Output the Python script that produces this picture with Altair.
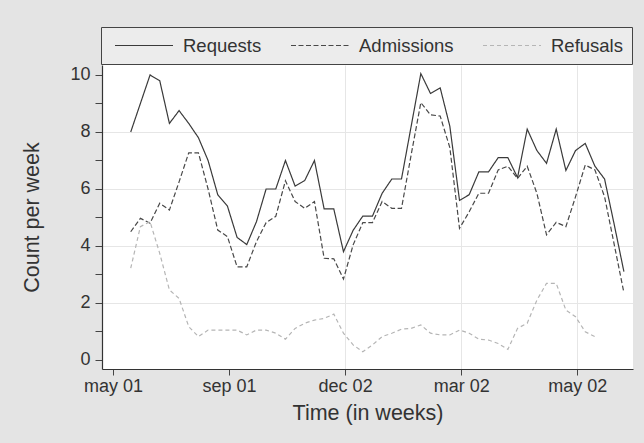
import altair as alt
import pandas as pd

# ---- data (one value per week) ----
requests = [8.0, 9.0, 10.0, 9.8, 8.3, 8.75, 8.3, 7.8, 7.0, 5.8,
            5.4, 4.3, 4.05, 4.85, 6.0, 6.0, 7.0, 6.1, 6.3, 7.0,
            5.3, 5.3, 3.8, 4.55, 5.05, 5.05, 5.85, 6.35, 6.35, 8.2,
            10.05, 9.35, 9.55, 8.2, 5.6, 5.8, 6.6, 6.6, 7.1, 7.1,
            6.4, 8.1, 7.35, 6.9, 8.1, 6.65, 7.35, 7.6, 6.8, 6.35,
            4.75, 3.1]
admissions = [4.5, 4.97, 4.8, 5.5, 5.26, 6.25, 7.27, 7.27, 6.0, 4.56,
              4.33, 3.27, 3.27, 4.15, 4.82, 5.04, 6.29, 5.56, 5.32, 5.56,
              3.57, 3.55, 2.84, 4.04, 4.82, 4.82, 5.56, 5.32, 5.32, 7.2,
              9.03, 8.6, 8.56, 7.45, 4.62, 5.2, 5.85, 5.85, 6.67, 6.8,
              6.37, 6.8, 5.85, 4.39, 4.83, 4.68, 5.73, 6.84, 6.67, 5.73,
              4.05, 2.36]
refusals = [3.22, 4.68, 4.85, 3.74, 2.46, 2.16, 1.17, 0.82, 1.05, 1.05,
            1.05, 1.05, 0.88, 1.05, 1.05, 0.94, 0.73, 1.11, 1.29, 1.4,
            1.46, 1.61, 0.94, 0.53, 0.29, 0.53, 0.82, 0.94, 1.08, 1.11,
            1.23, 0.94, 0.88, 0.88, 1.05, 0.94, 0.73, 0.7, 0.58, 0.37,
            1.11, 1.29, 2.1, 2.69, 2.69, 1.75, 1.52, 0.99, 0.82]

series_names = ["Requests", "Admissions", "Refusals"]
x_tick_values = [-1.83, 10.17, 22.17, 34.17, 46.17]
x_tick_labels = ["may 01", "sep 01", "dec 02", "mar 02", "may 02"]
y_tick_values = list(range(0, 11))

rows = []
for name, vals in zip(series_names, [requests, admissions, refusals]):
    for i, v in enumerate(vals):
        rows.append({"week": i, "count": v, "series": name})
df = pd.DataFrame(rows)

FONT = "Liberation Sans"
TXT = "#333333"

label_array = "[" + ",".join("'" + s + "'" for s in x_tick_labels) + "]"


def make_legend():
    return alt.Legend(title=None, orient="none", legendX=-1, legendY=-38,
                      direction="horizontal",
                      symbolType="stroke", symbolSize=3364,
                      symbolStrokeWidth=1.2, symbolOffset=4,
                      clipHeight=19,
                      labelFontSize=18.5, labelFont=FONT, labelColor=TXT,
                      labelOffset=9, columnPadding=24,
                      padding=9, fillColor="#ececec",
                      strokeColor="#444444", cornerRadius=0)


chart = alt.Chart(df).mark_line(strokeWidth=1.2, clip=True).encode(
    x=alt.X("week:Q",
            scale=alt.Scale(domain=[-2.97, 51.94], nice=False, zero=False),
            axis=alt.Axis(values=x_tick_values,
                          labelExpr=label_array + "[round(datum.index*4)]",
                          title="Time (in weeks)",
                          grid=True,
                          gridColor="#e6e6e6",
                          gridOpacity={"condition": {"test": "datum.value > 20", "value": 1}, "value": 0},
                          tickSize=6, labelPadding=2, titlePadding=7)),
    y=alt.Y("count:Q",
            scale=alt.Scale(domain=[-0.316, 10.35], nice=False, zero=False),
            axis=alt.Axis(values=y_tick_values,
                          labelExpr="datum.value % 2 == 0 ? datum.label : ''",
                          title="Count per week",
                          grid=True,
                          gridColor="#e6e6e6",
                          gridOpacity={"condition": {"test": "datum.value % 2 == 0 && datum.value > 0 && datum.value < 10", "value": 1}, "value": 0},
                          tickSize=7, labelPadding=5, titlePadding=26)),
    color=alt.Color("series:N",
                    scale=alt.Scale(domain=series_names,
                                    range=["#3a3a3a", "#484848", "#b5b5b5"]),
                    legend=make_legend()),
    strokeDash=alt.StrokeDash("series:N",
                              scale=alt.Scale(domain=series_names,
                                              range=[[1, 0], [5, 2.5], [4, 3]]),
                              legend=make_legend()),
).properties(
    width=531, height=304,
    autosize=alt.AutoSizeParams(type="none"),
    padding={"left": 102, "top": 65, "right": 11, "bottom": 74},
    background="#e4e4e4",
).configure_view(
    fill="#ffffff", stroke=None
).configure_axis(
    labelFont=FONT, labelFontSize=18, labelColor=TXT,
    titleFont=FONT, titleFontSize=21.5, titleFontWeight="normal", titleColor=TXT,
    domainColor="#333333", domainWidth=1.2, tickColor="#444444", tickWidth=1,
)

chart.save("out.html", embed_options={"renderer": "svg", "actions": False})
